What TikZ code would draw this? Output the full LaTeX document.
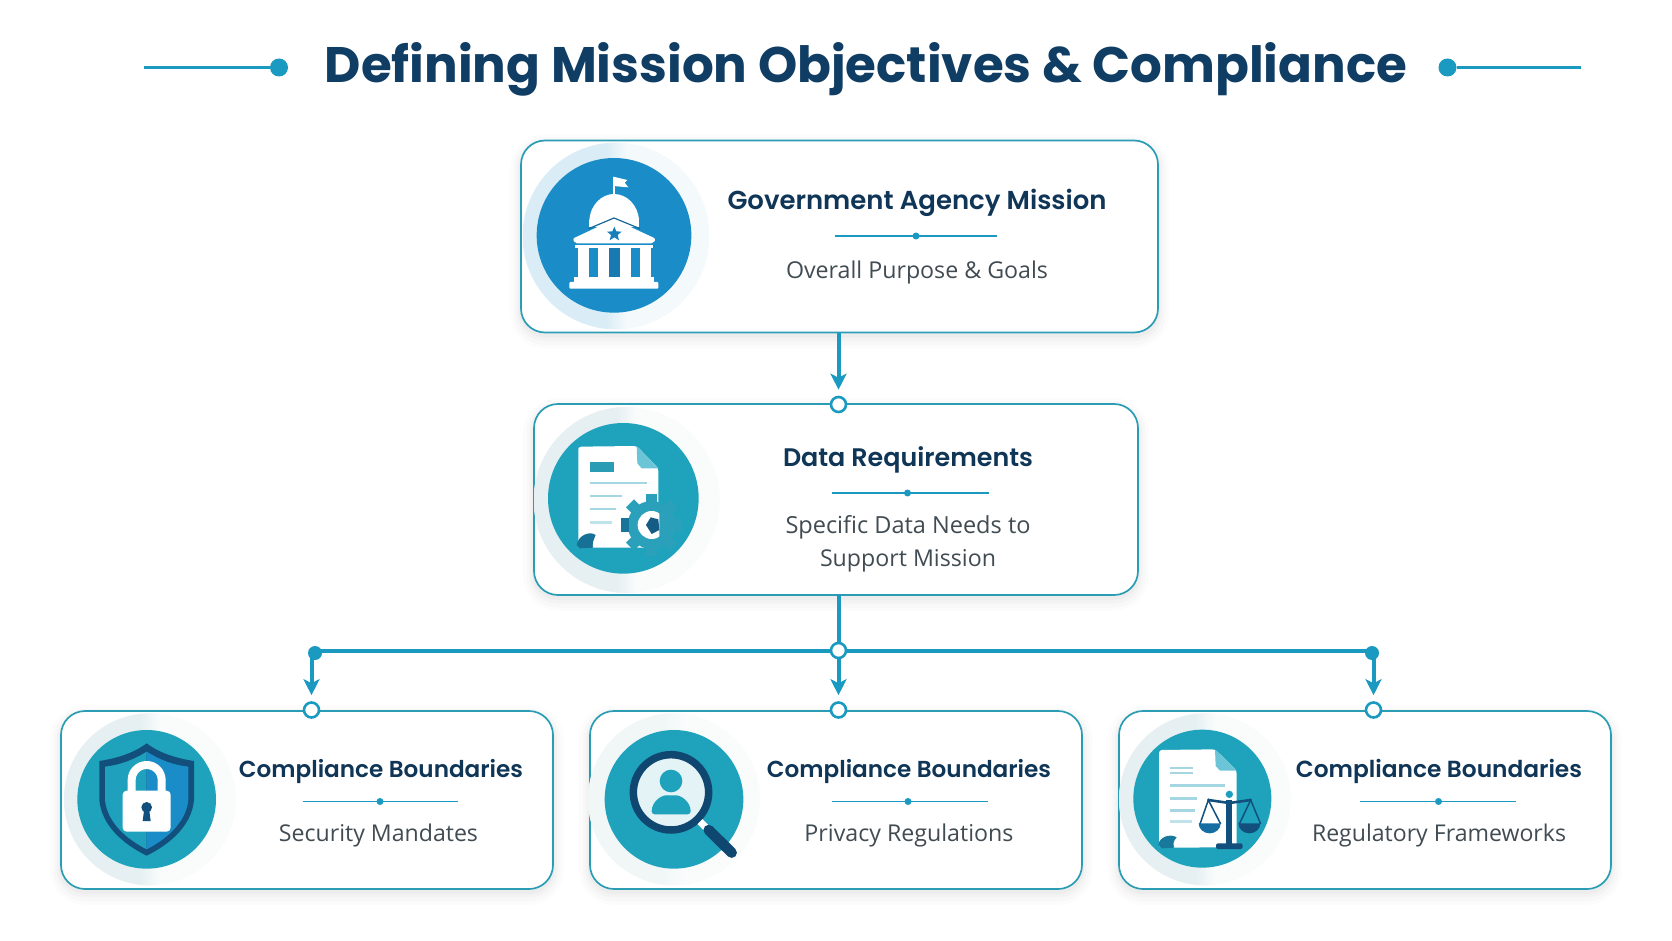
\documentclass[tikz,border=0pt]{standalone}
\usepackage{fontspec}
\usepackage{graphicx}
\setmainfont{Open Sans}
\newfontfamily\headfont{Poppins}[BoldFont={* SemiBold}]
\newfontfamily\titlefont{Poppins}
\newfontfamily\subfont{Open Sans}
\usetikzlibrary{arrows.meta}
\definecolor{edgec}{HTML}{2A9DB5}
\definecolor{connc}{HTML}{1A9AC0}
\definecolor{titlec}{HTML}{0F3D63}
\definecolor{headc}{HTML}{0F3557}
\definecolor{subc}{HTML}{414B52}
\definecolor{tealc}{HTML}{1FA3BC}
\definecolor{bluec}{HTML}{1A8CC8}
\definecolor{navyc}{HTML}{124F7C}
\definecolor{lightl}{HTML}{A5D7E2}
\definecolor{foldc}{HTML}{6CC5D6}
\definecolor{gearc}{HTML}{2AA0BA}
\definecolor{halol}{HTML}{E6EFF1}
\definecolor{halor}{HTML}{FAFCFC}
\newcommand{\fitw}[2]{\resizebox{#1pt}{!}{#2}}
\tikzset{
  csh/.style={
    preaction={draw=black,draw opacity=0.012,line width=22pt,fill=none,transform canvas={yshift=-5pt}},
    preaction={draw=black,draw opacity=0.014,line width=15pt,fill=none,transform canvas={yshift=-5pt}},
    preaction={draw=black,draw opacity=0.018,line width=9pt,fill=none,transform canvas={yshift=-4pt}},
    preaction={draw=black,draw opacity=0.022,line width=4pt,fill=none,transform canvas={yshift=-3pt}}},
  card/.style={csh,draw=edgec,line width=1.7pt,fill=white,rounded corners=24pt,inner sep=0pt,outer sep=0pt},
  head/.style={text=headc,inner sep=0pt,font=\headfont\bfseries},
  sub/.style={text=subc,inner sep=0pt,font=\subfont},
  conn/.style={draw=connc,line width=4pt},
  arr/.style={conn,-{Stealth[length=16pt,width=16pt,inset=4pt]}},
  port/.style={circle,draw=connc,line width=2.6pt,fill=white,minimum size=15pt,inner sep=0pt},
  rule/.style={draw=connc,line width=1.6pt},
  ruledot/.style={circle,fill=connc,minimum size=7pt,inner sep=0pt},
  zoomed/.style={x=0.33333pt,y=-0.33333pt},
}
% halo: centre x, centre y, radius, left colour, right colour
\newcommand{\halo}[5]{\begin{scope}
  \clip (#1,#2) circle[radius=#3];
  \fill[#5] (#1-#3,#2-#3) rectangle (#1+#3,#2+#3);
  \fill[#4] (#1-#3,#2-#3) rectangle (#1-30,#2+#3);
  \shade[left color=#4,right color=#5] (#1-30,#2-#3) rectangle (#1+30,#2+#3);
\end{scope}}
\begin{document}
\begin{tikzpicture}[x=1pt,y=-1pt]
\useasboundingbox (0,0) rectangle (1672,941);
\fill[white] (0,0) rectangle (1672,941);

% title
\node[inner sep=0pt,text=titlec,font=\titlefont\bfseries] (title) at (866,69) {\fitw{1082}{Defining Mission Objectives \& Compliance}};
\node[circle,fill=connc,minimum size=18pt,inner sep=0pt] (tl) at (279,67.5) {};
\node[circle,fill=connc,minimum size=18pt,inner sep=0pt] (tr) at (1447.5,67.5) {};
\coordinate (tlend) at (144,67.5);
\coordinate (trend) at (1581,67.5);
\draw[connc,line width=3pt] (tlend) -- (tl);
\draw[connc,line width=3pt] (tr) -- (trend);

% cards
\node[card,minimum width=637pt,minimum height=192pt] (gov) at (839.5,236.5) {};
\node[card,minimum width=604pt,minimum height=191pt] (data) at (836,499.5) {};
\node[card,minimum width=492pt,minimum height=178pt] (c1) at (307,800) {};
\node[card,minimum width=492pt,minimum height=178pt] (c2) at (836,800) {};
\node[card,minimum width=492pt,minimum height=178pt] (c3) at (1365,800) {};

% connectors
\node[port] (pdata) at (838.5,404.5) {};
\node[port] (jun) at (838.5,650.5) {};
\node[port] (p1) at (311.5,710) {};
\node[port] (p2) at (838.5,710) {};
\node[port] (p3) at (1373.5,710) {};
\draw[arr,shorten >=6pt] (gov.south -| pdata) -- (pdata.north);
\draw[conn] (data.south -| jun) -- (jun.north);
\fill[connc] (315,653) circle[radius=7];
\fill[connc] (1372,653) circle[radius=7];
\draw[conn] (jun.west) -- (315,650.5);
\draw[conn] (jun.east) -- (1372,650.5);
\draw[arr,shorten >=6pt] (311.5,656) -- (p1.north);
\draw[arr,shorten >=6pt] (jun.south) -- (p2.north);
\draw[arr,shorten >=6pt] (1373.5,656) -- (p3.north);

% texts
\node[head] (h0) at (917,203) {\fitw{379}{Government Agency Mission}};
\coordinate (r0a) at (835,236); \coordinate (r0b) at (997,236);
\draw[rule] (r0a) -- (r0b); \node[ruledot] (d0) at (916,236) {};
\node[sub] (s0) at (917,272) {\fitw{262}{Overall Purpose \& Goals}};

\node[head] (h1) at (908,460) {\fitw{250}{Data Requirements}};
\coordinate (r1a) at (832,493); \coordinate (r1b) at (989,493);
\draw[rule] (r1a) -- (r1b); \node[ruledot] (d1) at (907.5,493) {};
\node[sub] (s1) at (908,527) {\fitw{245}{Specific Data Needs to}};
\node[sub] (s1b) at (908,561) {\fitw{176}{Support Mission}};

\node[head] (h2) at (381,771) {\fitw{284}{Compliance Boundaries}};
\coordinate (r2a) at (303,801.5); \coordinate (r2b) at (458,801.5);
\draw[rule] (r2a) -- (r2b); \node[ruledot] (d2) at (380,801.5) {};
\node[sub] (s2) at (378.5,835) {\fitw{199}{Security Mandates}};

\node[head] (h3) at (909,771) {\fitw{284}{Compliance Boundaries}};
\coordinate (r3a) at (832,801.5); \coordinate (r3b) at (988,801.5);
\draw[rule] (r3a) -- (r3b); \node[ruledot] (d3) at (908,801.5) {};
\node[sub] (s3) at (909,835) {\fitw{209}{Privacy Regulations}};

\node[head] (h4) at (1439,771) {\fitw{286}{Compliance Boundaries}};
\coordinate (r4a) at (1360,801.5); \coordinate (r4b) at (1516,801.5);
\draw[rule] (r4a) -- (r4b); \node[ruledot] (d4) at (1438.5,801.5) {};
\node[sub] (s4) at (1439,835) {\fitw{254}{Regulatory Frameworks}};

% building icon
\begin{scope}[shift={(510,130)},zoomed]
\halo{318}{318}{280}{bluec!16!white}{bluec!5!white}
\fill[bluec] (312,316) circle[radius=232];
\fill[white] (310,195) rectangle (316,140);
\fill[white] (310,140) -- (352,150) -- (344,158) -- (355,172) -- (310,168) -- cycle;
\fill[white] (238,272) .. controls (240,225) and (275,192) .. (312,192) .. controls (350,192) and (385,225) .. (387,272) -- cycle;
\fill[white] (238,270) rectangle (387,292);
\fill[white,rounded corners=2pt] (188,326) -- (312,268) -- (437,326) -- (430,340) -- (195,340) -- cycle;
\draw[navyc!60!bluec,line width=1.2pt] (236,296) -- (312,264) -- (390,296);
\fill[bluec!80!navyc] (313,290) -- (319,304) -- (335,305) -- (323,315) -- (327,331) -- (313,322) -- (299,331) -- (303,315) -- (291,305) -- (307,304) -- cycle;
\fill[white] (196,344) rectangle (430,354);
\foreach \cx in {203,263,330,390}{\fill[white] (\cx,352) rectangle (\cx+33,440);}
\fill[bluec!70!navyc] (296,354) rectangle (330,440);
\fill[white] (192,440) rectangle (432,456);
\fill[white,rounded corners=1pt] (178,456) rectangle (445,476);
\end{scope}

% data document icon
\begin{scope}[shift={(530,400)},zoomed]
\halo{290}{300}{279}{halol}{halor}
\fill[tealc] (280,295) circle[radius=226];
\fill[white,rounded corners=3pt] (145,150) -- (145,140) -- (320,138) -- (385,205) -- (385,443) -- (145,443) -- cycle;
\fill[foldc] (320,138) -- (385,205) -- (335,205) -- (322,190) -- cycle;
\fill[edgec] (180,187) rectangle (253,215);
\fill[lightl] (180,246) rectangle (352,253);
\fill[lightl] (180,285) rectangle (275,292);
\fill[lightl] (180,324) rectangle (258,331);
\fill[lightl!70!white] (180,364) rectangle (245,371);
\fill[navyc!60!tealc] (140,435) .. controls (145,405) and (180,392) .. (197,405) .. controls (190,420) and (185,435) .. (190,443) -- (150,445) -- cycle;
\foreach \a in {0,45,...,315}{\fill[gearc,rotate around={\a:(365,375)}] (348,283) rectangle (382,315);}
\fill[gearc] (365,375) circle[radius=72];
\fill[navyc!55!tealc] (272,355) rectangle (298,395);
\fill[white] (365,375) circle[radius=42];
\begin{scope}\clip (388,320) rectangle (430,430);\fill[gearc] (365,375) circle[radius=44];\end{scope}
\fill[navyc!85!tealc] (348,375) -- (362,352) -- (385,358) -- (388,390) -- (365,402) -- cycle;
\end{scope}

% shield icon
\begin{scope}[shift={(50,700)},zoomed]
\halo{300}{298}{258}{halol}{halor}
\fill[tealc] (290,298) circle[radius=208];
\fill[navyc] (290,130) .. controls (250,160) and (200,175) .. (148,183) -- (148,300) .. controls (155,380) and (225,435) .. (290,467) .. controls (355,435) and (425,380) .. (432,300) -- (432,183) .. controls (380,175) and (330,160) .. (290,130) -- cycle;
\fill[tealc!90!bluec] (290,155) .. controls (250,180) and (210,195) .. (165,200) -- (165,300) .. controls (172,370) and (235,420) .. (290,448) -- cycle;
\fill[bluec] (290,155) .. controls (330,180) and (370,195) .. (415,200) -- (415,300) .. controls (408,370) and (345,420) .. (290,448) -- cycle;
\draw[white,line width=8pt] (245,280) -- (245,240) arc (180:360:45) -- (335,280);
\fill[white,rounded corners=4pt] (218,272) rectangle (362,395);
\fill[navyc] (290,322) circle[radius=16];
\fill[navyc] (283,325) -- (297,325) -- (302,363) -- (278,363) -- cycle;
\end{scope}

% magnifier icon
\begin{scope}[shift={(590,700)},zoomed]
\halo{252}{298}{258}{halol!55!white}{halor}
\fill[tealc] (252,298) circle[radius=208];
\fill[black!8!tealc!12!white] (243,277) circle[radius=113];
\draw[navyc!90!black,line width=7.5pt] (243,277) circle[radius=113];
\fill[tealc] (243,243) circle[radius=34];
\fill[tealc,rounded corners=3pt] (185,343) .. controls (185,305) and (215,283) .. (243,287) .. controls (272,283) and (302,305) .. (302,343) -- cycle;
\draw[white,line width=7pt] (330,365) -- (350,385);
\draw[navyc!90!black,line width=10.5pt,line cap=round] (356,390) -- (425,458);
\end{scope}

% scales document icon
\begin{scope}[shift={(1110,700)},zoomed]
\halo{285}{298}{258}{halol}{halor}
\fill[tealc] (277,296) circle[radius=207];
\fill[white,rounded corners=3pt] (147,150) -- (315,148) -- (380,212) -- (380,442) -- (147,443) -- cycle;
\fill[foldc] (315,148) -- (380,212) -- (330,212) -- (317,198) -- cycle;
\fill[lightl] (180,200) rectangle (250,206);
\fill[lightl] (180,216) rectangle (250,222);
\fill[lightl] (180,252) rectangle (345,260);
\fill[lightl] (180,291) rectangle (262,299);
\fill[lightl] (180,328) rectangle (254,336);
\fill[lightl!70!white] (180,360) rectangle (245,368);
\fill[navyc!50!tealc] (145,435) .. controls (148,410) and (180,400) .. (200,412) .. controls (190,422) and (188,435) .. (193,443) -- (155,445) -- cycle;
\fill[navyc] (349,300) rectangle (367,435);
\fill[navyc,rounded corners=2pt] (318,430) rectangle (398,447);
\fill[tealc!80!bluec] (358,283) circle[radius=11];
\draw[navyc,line width=2.6pt,line cap=round] (295,300) -- (358,309) -- (422,300);
\draw[navyc,line width=1.5pt] (270,372) -- (295,300) -- (332,372);
\draw[navyc,line width=1.5pt] (388,372) -- (422,300) -- (452,372);
\fill[bluec!50!navyc] (266,370) arc (180:0:33 and 30) -- cycle;
\fill[navyc] (385,370) arc (180:0:33 and 30) -- cycle;
\end{scope}
\end{tikzpicture}
\end{document}
